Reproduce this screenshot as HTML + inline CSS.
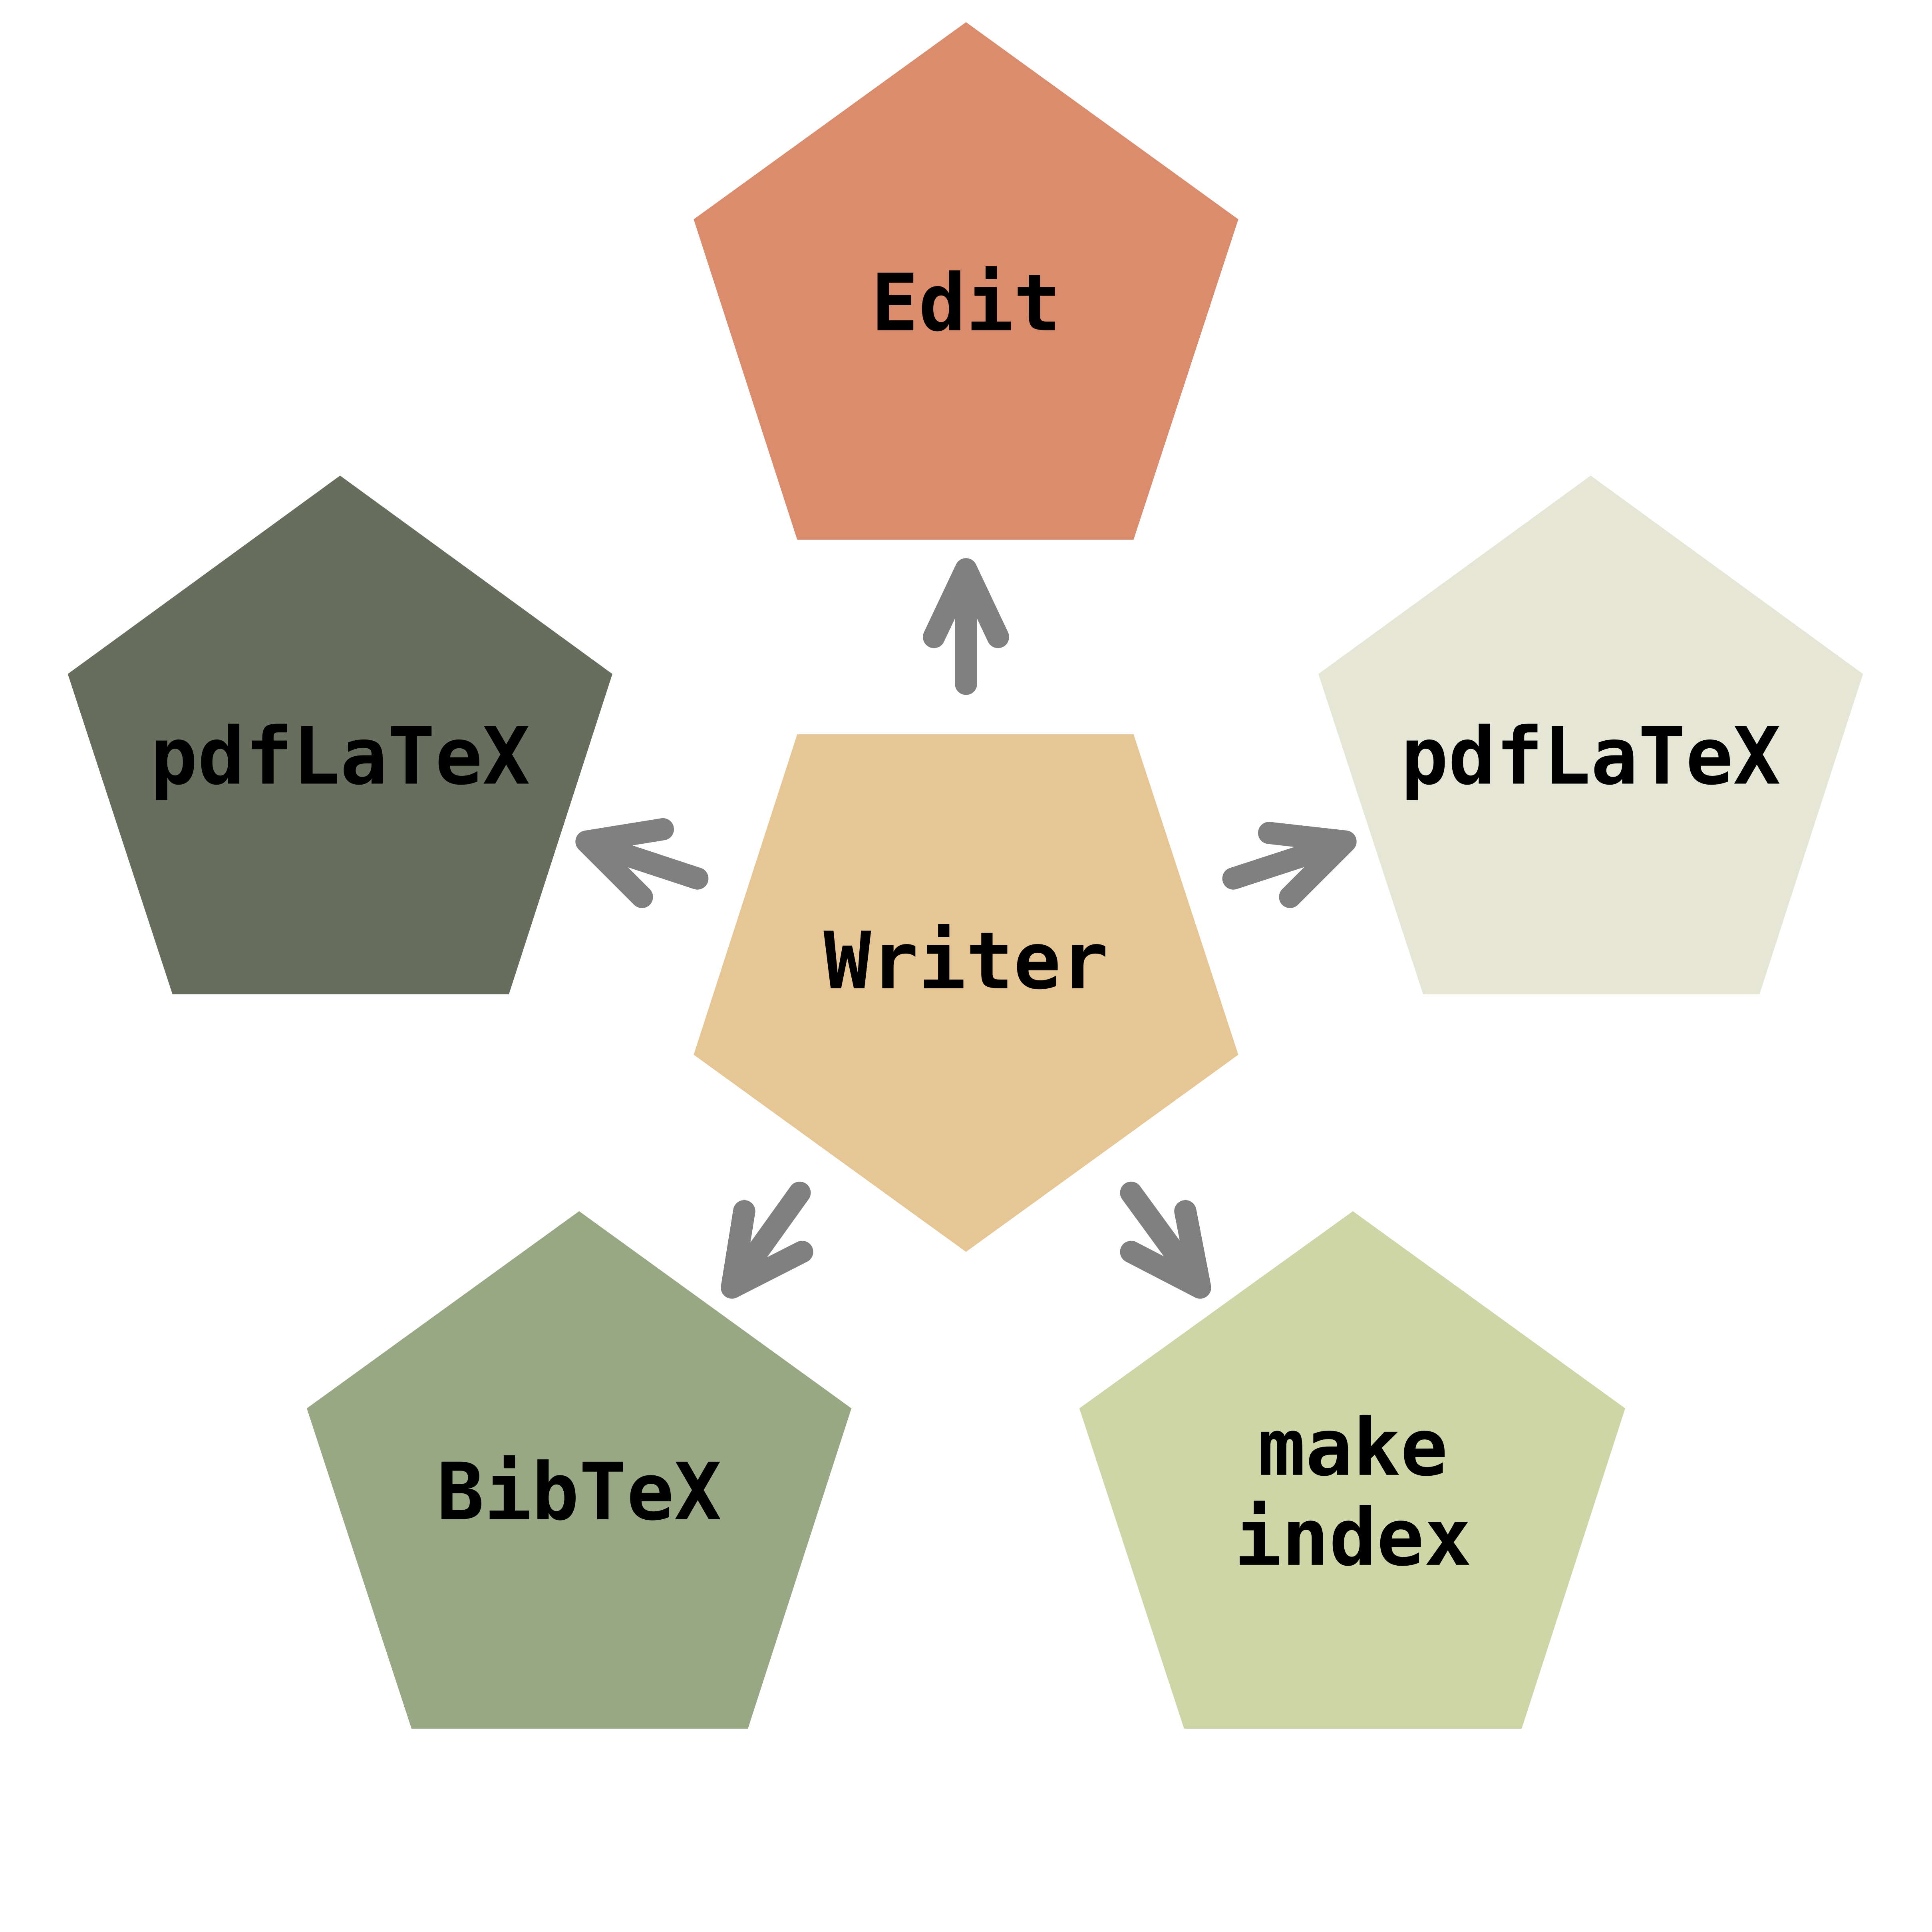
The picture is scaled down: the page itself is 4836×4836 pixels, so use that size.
<!DOCTYPE html>
<html><head><style>html,body{margin:0;padding:0;background:#fff}svg{display:block}</style></head>
<body>
<svg width="4836" height="4836" viewBox="0 0 1568 1568" xmlns="http://www.w3.org/2000/svg">
<rect width="1568" height="1568" fill="#fff"/>
<polygon points="784,18 1005,178 920,438 647,438 563,178" fill="#db8c6d"/>
<polygon points="647,596 920,596 1005,856 784,1016 563,856" fill="#e6c694"/>
<polygon points="276,386 497,547 413,807 140,807 55,547" fill="#676e5e"/>
<polygon points="1291,386 1512,547 1428,807 1155,807 1070,547" fill="#e5e6d5"/>
<polygon points="470,983 691,1143 607,1403 334,1403 249,1143" fill="#98a884"/>
<polygon points="1098,983 1319,1143 1235,1403 961,1403 876,1143" fill="#ced6a8"/>
<g stroke="#808080" stroke-width="18" stroke-linecap="round" stroke-linejoin="round" fill="none">
<path d="M784,555 L784,462 M758,517 L784,462 L810,517"/>
<path d="M566,713 L478,684 M538,673 L476,683 L521,728"/>
<path d="M1001,713 L1090,684 M1030,676 L1092,683 L1047,728"/>
<path d="M649,968 L596,1042 M604,983 L594,1045 L651,1016"/>
<path d="M918,968 L972,1042 M962,983 L974,1045 L918,1016"/>
</g>
<g font-family="'DejaVu Sans Mono','Liberation Mono',monospace" font-weight="bold" font-size="64" text-anchor="middle" fill="#000">
<text x="784" y="268">Edit</text>
<text x="784" y="802">Writer</text>
<text x="276" y="636">pdfLaTeX</text>
<text x="1291" y="636">pdfLaTeX</text>
<text x="470" y="1233">BibTeX</text>
<text x="1098" y="1197">make</text>
<text x="1098" y="1270">index</text>
</g>
</svg>
</body></html>
